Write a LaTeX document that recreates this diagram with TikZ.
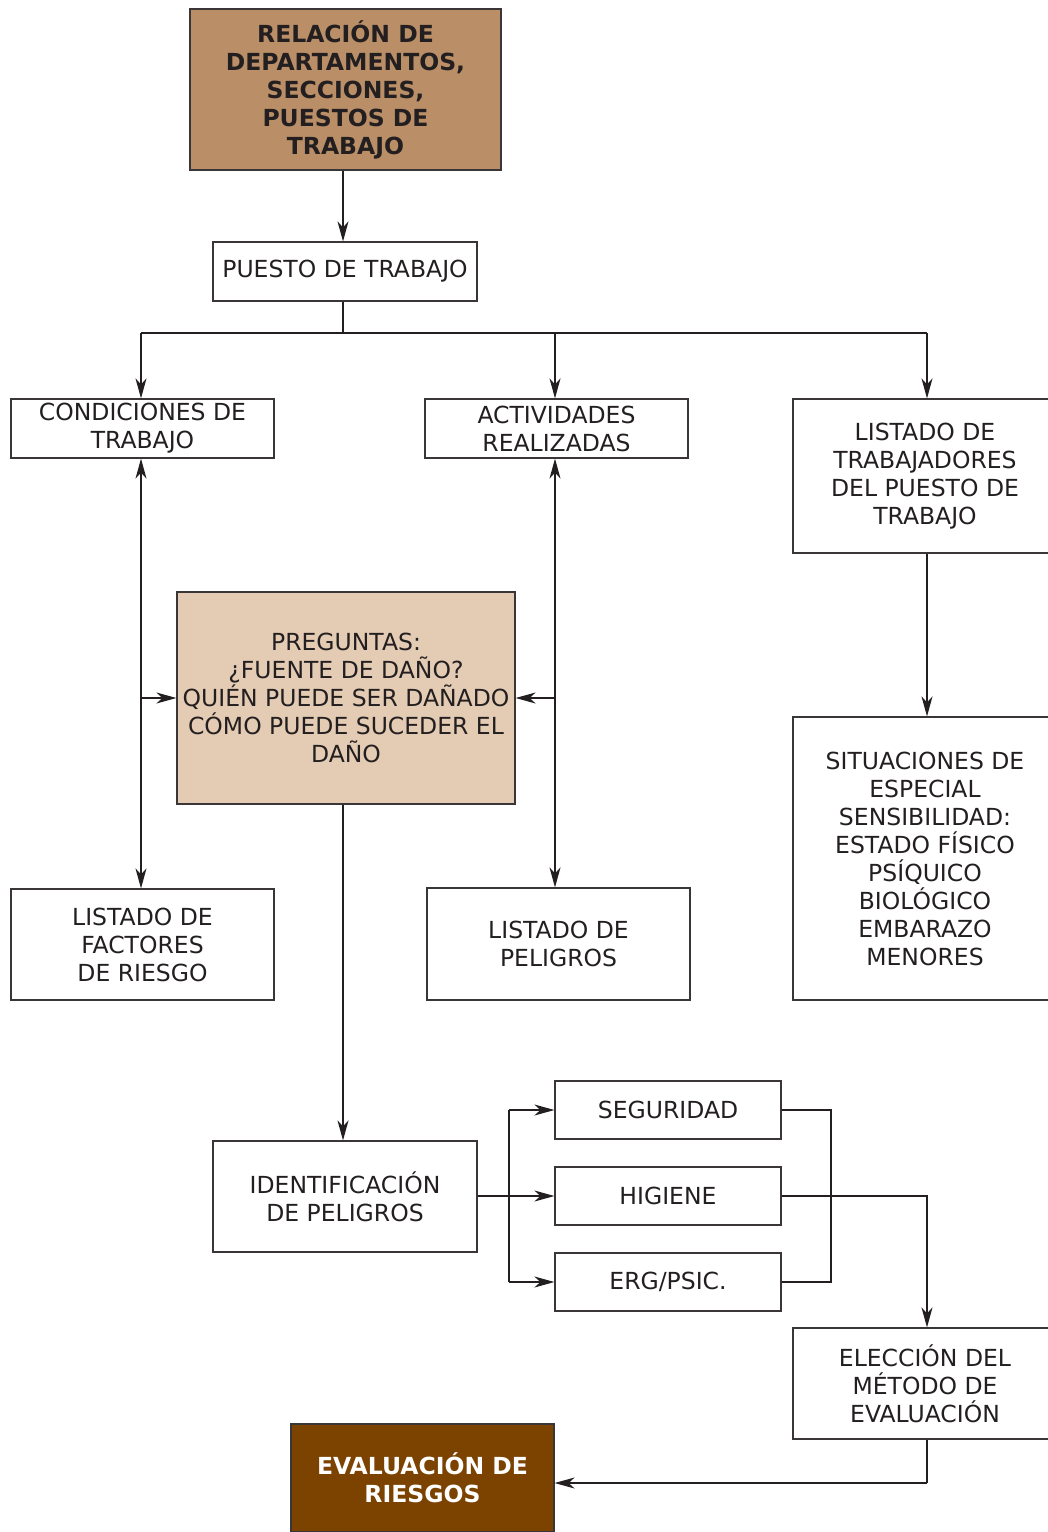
\documentclass[tikz,border=0pt]{standalone}
\usepackage{fontspec}
\setmainfont{DejaVu Sans}
\usetikzlibrary{arrows.meta}
\definecolor{ink}{HTML}{231F20}
\definecolor{edge}{HTML}{3A3637}
\definecolor{tanfill}{HTML}{BA8F68}
\definecolor{sandfill}{HTML}{E4CBB3}
\definecolor{brownfill}{HTML}{7B4200}
\begin{document}
\begin{tikzpicture}[x=1pt,y=-1pt,
  every node/.style={font=\fontsize{23.5}{28}\selectfont, text=ink},
  box/.style={draw=edge, line width=1.2pt, rectangle, align=center, inner sep=0pt},
  tanbox/.style={box, fill=tanfill, font=\fontsize{23.5}{28}\selectfont\bfseries},
  sandbox/.style={box, fill=sandfill},
  brownbox/.style={box, fill=brownfill, text=white, font=\fontsize{23.5}{28}\selectfont\bfseries},
  link/.style={draw=ink, line width=1.2pt},
  arr/.style={link, -{Stealth[length=20pt,width=11pt,inset=6pt]}},
  dblarr/.style={link, {Stealth[length=20pt,width=11pt,inset=6pt]}-{Stealth[length=20pt,width=11pt,inset=6pt]}}
]
\useasboundingbox (0,0) rectangle (1048,1532);
\clip (0,0) rectangle (1048,1532);

% boxes
\node[tanbox, minimum width=311pt, minimum height=161pt] (title) at (345.5,89.5)
  {RELACIÓN DE\\DEPARTAMENTOS,\\SECCIONES,\\PUESTOS DE\\TRABAJO};
\node[box, minimum width=264pt, minimum height=59pt] (puesto) at (345,271.5) {PUESTO DE TRABAJO};
\node[box, minimum width=263pt, minimum height=59pt] (cond) at (142.5,428.5) {CONDICIONES DE\\TRABAJO};
\node[box, minimum width=263pt, minimum height=59pt] (activ) at (556.5,428.5) {ACTIVIDADES\\REALIZADAS};
\node[box, minimum width=264pt, minimum height=154pt] (trab) at (925,476)
  {LISTADO DE\\TRABAJADORES\\DEL PUESTO DE\\TRABAJO};
\node[sandbox, minimum width=338pt, minimum height=212pt] (preg) at (346,698)
  {PREGUNTAS:\\¿FUENTE DE DAÑO?\\QUIÉN PUEDE SER DAÑADO\\CÓMO PUEDE SUCEDER EL\\DAÑO};
\node[box, minimum width=263pt, minimum height=111pt] (factores) at (142.5,944.5)
  {LISTADO DE\\FACTORES\\DE RIESGO};
\node[box, minimum width=263pt, minimum height=112pt] (peligros) at (558.5,944)
  {LISTADO DE\\PELIGROS};
\node[box, minimum width=264pt, minimum height=283pt] (situ) at (925,858.5)
  {SITUACIONES DE\\ESPECIAL\\SENSIBILIDAD:\\ESTADO FÍSICO\\PSÍQUICO\\BIOLÓGICO\\EMBARAZO\\MENORES};
\node[box, minimum width=264pt, minimum height=111pt] (ident) at (345,1196.5)
  {IDENTIFICACIÓN\\DE PELIGROS};
\node[box, minimum width=226pt, minimum height=58pt] (seg) at (668,1110) {SEGURIDAD};
\node[box, minimum width=226pt, minimum height=58pt] (hig) at (668,1196) {HIGIENE};
\node[box, minimum width=226pt, minimum height=58pt] (erg) at (668,1282) {ERG/PSIC.};
\node[box, minimum width=264pt, minimum height=111pt] (elec) at (925,1383.5)
  {ELECCIÓN DEL\\MÉTODO DE\\EVALUACIÓN};
\node[brownbox, minimum width=263pt, minimum height=108pt] (eval) at (422.5,1478)
  {EVALUACIÓN DE\\RIESGOS};

% guide points for the connector lanes
\coordinate (split) at (343,333);
\coordinate (lcol) at (141,0);
\coordinate (mcol) at (555,0);
\coordinate (rcol) at (927,0);
\coordinate (fork) at (509,1196);
\coordinate (join) at (831,1196);
\coordinate (back) at (927,1483);

% connectors
\draw[arr] (split |- title.south) -- (split |- puesto.north);
\draw[link] (split |- puesto.south) -- (split);
\draw[link] (split -| lcol) -- (split -| rcol);
\draw[arr] (split -| lcol) -- (lcol |- cond.north);
\draw[arr] (split -| mcol) -- (mcol |- activ.north);
\draw[arr] (split -| rcol) -- (rcol |- trab.north);

\draw[dblarr] (lcol |- cond.south) -- (lcol |- factores.north);
\draw[arr] (lcol |- preg.west) -- (preg.west);
\draw[dblarr] (mcol |- activ.south) -- (mcol |- peligros.north);
\draw[arr] (mcol |- preg.east) -- (preg.east);

\draw[arr] (rcol |- trab.south) -- (rcol |- situ.north);
\draw[arr] (split |- preg.south) -- (split |- ident.north);

\draw[arr] (ident.east |- hig.west) -- (hig.west);
\draw[link] (fork |- seg.west) -- (fork |- erg.west);
\draw[arr] (fork |- seg.west) -- (seg.west);
\draw[arr] (fork |- erg.west) -- (erg.west);

\draw[link] (seg.east) -| (join) |- (erg.east);
\draw[arr] (hig.east) -| (rcol |- elec.north);
\draw[link] (rcol |- elec.south) -- (back);
\draw[arr] (back) -- (back -| eval.east);
\end{tikzpicture}
\end{document}
